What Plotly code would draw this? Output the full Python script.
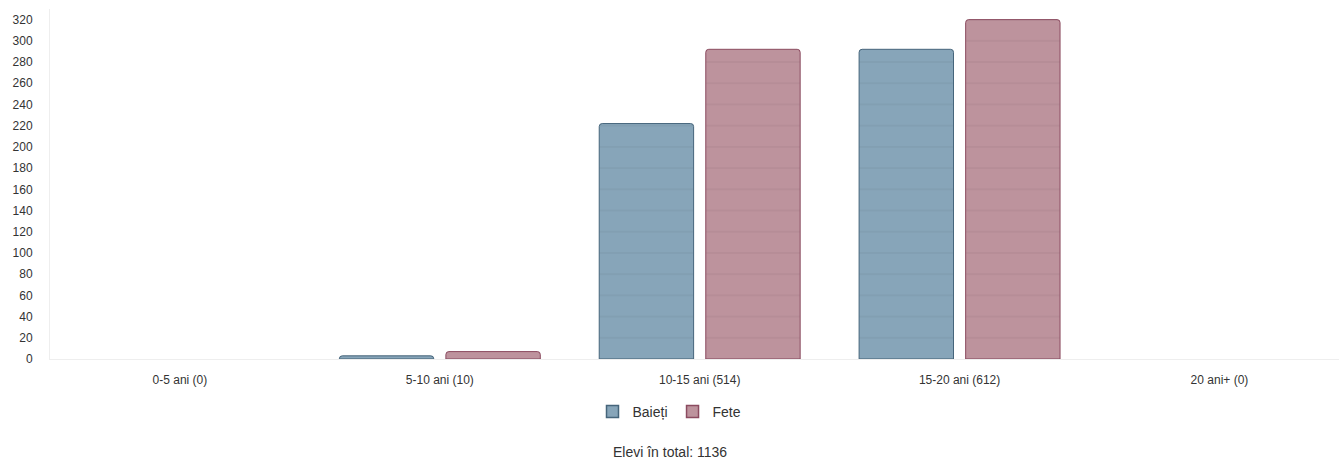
import plotly.graph_objects as go

categorii = ["0-5 ani (0)", "5-10 ani (10)", "10-15 ani (514)", "15-20 ani (612)", "20 ani+ (0)"]
baieti = [0, 3, 222, 292, 0]
fete = [0, 7, 292, 320, 0]
y_ticks = list(range(0, 321, 20))
total_text = "Elevi în total: 1136"

# geometry (px)
top, bottom, left = 9, 102, 50
plot_h = 461 - top - bottom
y_max = 330
step_px = 20 * plot_h / y_max  # one gridline step, used for the in-bar lines

serii = [("Baieți", baieti, "#87a5b9", "#46657b"),
         ("Fete", fete, "#bd939d", "#8b4b60")]

fig = go.Figure()
for nume, vals, col, edge in serii:
    fig.add_trace(go.Bar(
        x=categorii, y=vals, name=nume, showlegend=False,
        marker=dict(color=col,
                    pattern=dict(shape="-", size=step_px, solidity=1.0 / step_px,
                                 fgcolor="rgba(0,0,0,0.07)", bgcolor=col,
                                 fillmode="replace"),
                    line=dict(color=edge, width=[1 if v else 0 for v in vals]))))
# legend entries with square swatches
for nume, vals, col, edge in serii:
    fig.add_trace(go.Scatter(
        x=[None], y=[None], mode="markers", name=nume,
        marker=dict(symbol="square", size=12, color=col, line=dict(color=edge, width=1.5))))

fig.update_layout(
    width=1339, height=461,
    margin=dict(l=left, r=0, t=top, b=bottom, autoexpand=False),
    paper_bgcolor="white", plot_bgcolor="white",
    font=dict(family="Arial, Liberation Sans, sans-serif", size=12, color="#333333"),
    barmode="group", bargap=0.18, bargroupgap=0.114, barcornerradius=3,
    showlegend=True,
    legend=dict(orientation="h", xref="container", yref="container",
                x=0.5, xanchor="center", y=1 - 412 / 461, yanchor="middle",
                font=dict(size=14, color="#333333"), itemwidth=30),
    annotations=[dict(text=total_text, xref="paper", yref="paper",
                      x=(670 - left) / 1289, y=(359 - 452) / plot_h,
                      xanchor="center", yanchor="middle",
                      showarrow=False, font=dict(size=14, color="#333333"))],
)
fig.update_xaxes(range=[-0.5, 4.46], showgrid=False, showline=True,
                 linecolor="#eeeeee", linewidth=1, ticks="", ticklabelstandoff=10,
                 tickfont=dict(size=12, color="#333333"), fixedrange=True,
                 automargin=False)
fig.update_yaxes(range=[0, y_max], tickvals=y_ticks, showgrid=False,
                 zeroline=False, showline=True, linecolor="#eeeeee", linewidth=1,
                 ticks="", ticklabelstandoff=14,
                 tickfont=dict(size=12, color="#333333"), fixedrange=True,
                 automargin=False)

fig.write_html("out.html", config={"displayModeBar": False},
               post_script="document.body.style.margin='0px';")
